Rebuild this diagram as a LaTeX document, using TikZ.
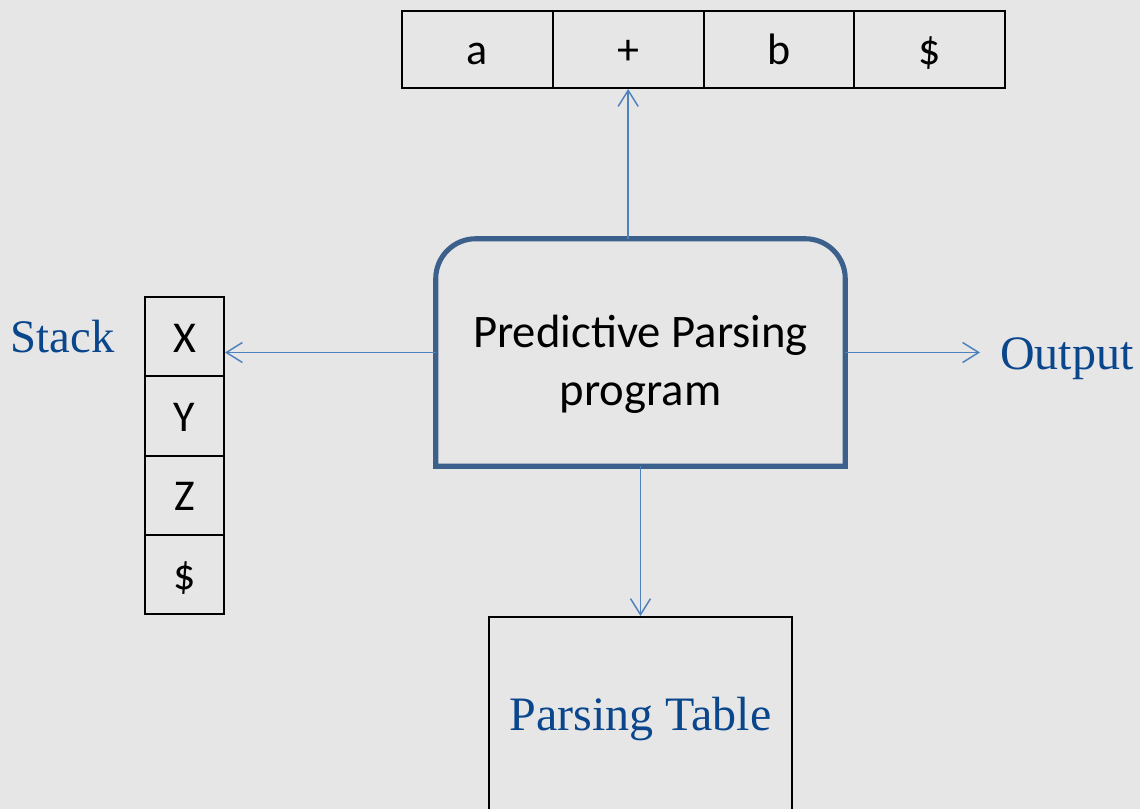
\documentclass[tikz,border=0pt]{standalone}
\usepackage{fontspec}
\setmainfont{Liberation Serif}
\newfontfamily\calibri{Carlito}
\usetikzlibrary{matrix,positioning,arrows.meta,calc}

\definecolor{pagebg}{RGB}{230,230,230}
\definecolor{boxblue}{RGB}{60,96,140}
\definecolor{arrowblue}{RGB}{79,129,189}
\definecolor{labelblue}{RGB}{10,70,140}

\tikzset{
  cell/.style={draw, line width=1.5pt, inner sep=0pt, anchor=center, text height=27pt, text depth=4pt,
    font=\calibri\fontsize{33}{40}\selectfont},
  tapecell/.style={cell, minimum width=113pt, minimum height=57.75pt},
  stackcell/.style={cell, minimum width=59.25pt, minimum height=59.4pt},
  flow/.style={arrowblue, line width=1.1pt, -{Straight Barb[length=12pt,width=15pt]}},
  bluelabel/.style={text=labelblue, inner sep=0pt, font=\fontsize{35}{42}\selectfont}
}

\begin{document}
\begin{tikzpicture}[x=0.75pt, y=-0.75pt]
  \useasboundingbox (0,0) rectangle (1140,809);
  \fill[pagebg] (0,0) rectangle (1140,809);
  \clip (0,0) rectangle (1140,809);

  % input buffer
  \matrix (tape) [matrix of nodes, nodes={tapecell}, column sep=-1.5pt] at (703.5,49.5)
  {
  a & + & b & \$ \\
  };

  % stack
  \matrix (stk) [matrix of nodes, nodes={stackcell}, row sep=-1.5pt] at (184.5,455.5)
  {
  X \\
  Y \\
  Z \\
  \$ \\
  };
  \node[bluelabel, left=22pt of stk-1-1] (stacklbl) {Stack};

  % parser
  \node[minimum width=306.75pt, minimum height=170.25pt, inner sep=0pt] (prog) at (640.5,352.5) {};
  \draw[boxblue, line width=3.8pt] (prog.south west) [rounded corners=30pt] -- (prog.north west)
    -- (prog.north east) [sharp corners] -- (prog.south east) -- cycle;
  \node[align=center, font=\calibri\fontsize{35}{43.5}\selectfont] (progtxt) at ([yshift=-9pt]prog.center)
    {Predictive Parsing\\program};

  \node[bluelabel, anchor=base west, font=\fontsize{36}{42}\selectfont] (out) at (1000,370) {Output};
  \node[draw, line width=1.5pt, minimum width=227.25pt, minimum height=153pt, text=labelblue,
        font=\fontsize{36}{42}\selectfont] (tbl) at (640.5,719) {Parsing Table};

  \path[flow]
  (tape-1-2.south |- prog.north) edge (tape-1-2.south)
  (prog.west) edge (prog.west -| stk-1-1.east)
  (prog.east) edge [shorten >=15pt] (prog.east -| out.west)
  (prog.south) edge (tbl.north);
\end{tikzpicture}
\end{document}
